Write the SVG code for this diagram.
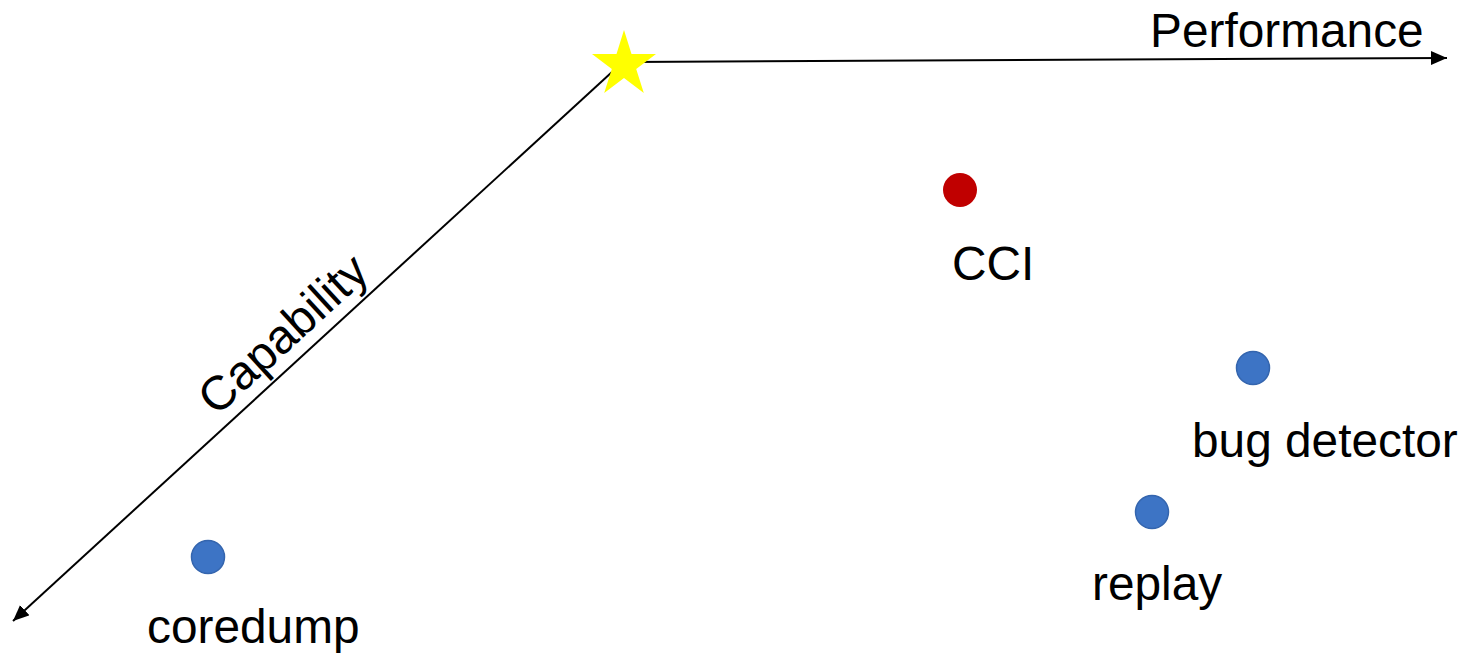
<svg xmlns="http://www.w3.org/2000/svg" width="1470" height="658" viewBox="0 0 1470 658">
<style>
.axis{stroke:#000;stroke-width:2;fill:none}
.lbl{font-family:"Liberation Sans",Arial,sans-serif;font-size:47.8px;fill:#000}
.blue{fill:#3D74C5;stroke:#3465AE;stroke-width:1.5}
.red{fill:#C00000}
</style>
<defs>
<marker id="arr" markerUnits="userSpaceOnUse" markerWidth="18" markerHeight="16" refX="16" refY="7" orient="auto">
<path d="M0,0 L16,7 L0,14 z" fill="#000"/>
</marker>
</defs>
<rect width="1470" height="658" fill="#fff"/>
<g id="connectors">
<line class="axis" x1="630" y1="62" x2="1447" y2="58" marker-end="url(#arr)"/>
<line class="axis" x1="612" y1="72" x2="13" y2="621" marker-end="url(#arr)"/>
</g>
<g id="origin">
<polygon fill="#FFFF00" points="624,30 631.5,54 656,54 636.2,69 643.8,93 624,78 604.2,93 611.8,69 592,54 616.5,54"/>
</g>
<g id="performance-label"><text class="lbl" x="1150" y="47">Performance</text></g>
<g id="capability-label"><text class="lbl" x="294" y="346" text-anchor="middle" transform="rotate(-42.5 294 346)">Capability</text></g>
<g id="cci"><circle class="red" cx="960" cy="190" r="17"/><text class="lbl" x="952" y="280">CCI</text></g>
<g id="bug-detector"><circle class="blue" cx="1253" cy="368" r="16.5"/><text class="lbl" x="1192" y="457">bug detector</text></g>
<g id="replay"><circle class="blue" cx="1152" cy="512" r="16.5"/><text class="lbl" x="1092" y="600">replay</text></g>
<g id="coredump"><circle class="blue" cx="208" cy="557" r="16.5"/><text class="lbl" x="147" y="643">coredump</text></g>
</svg>
